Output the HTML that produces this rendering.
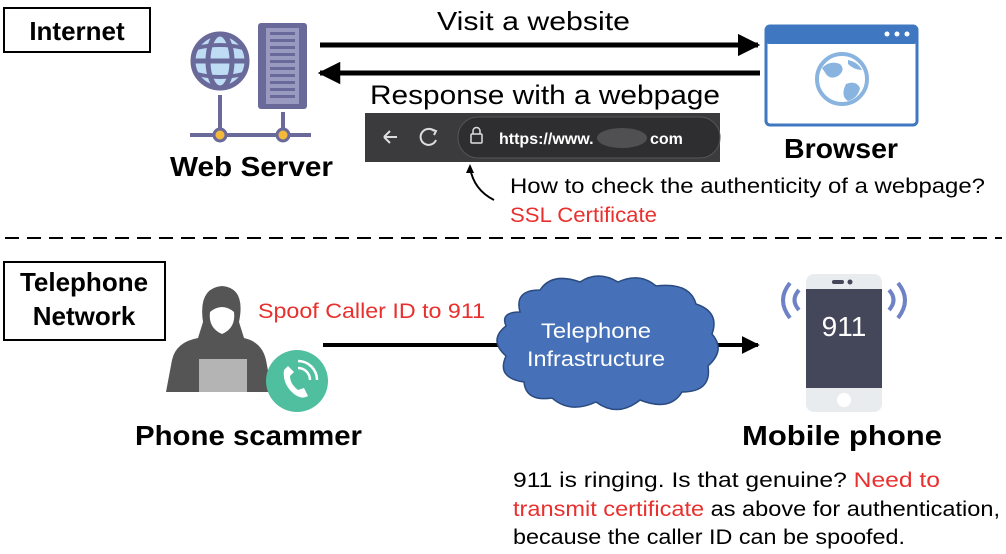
<!DOCTYPE html>
<html><head><meta charset="utf-8"><style>
html,body{margin:0;padding:0;background:#fff;}
svg{display:block;font-family:"Liberation Sans",sans-serif;}
</style></head><body>
<svg width="1006" height="554" viewBox="0 0 1006 554">
<defs>
<marker id="ah" viewBox="0 0 10 10" refX="9" refY="5" markerWidth="4.5" markerHeight="4.5" orient="auto"><path d="M0,0 L10,5 L0,10 z" fill="#000"/></marker>
</defs>
<rect x="4" y="8" width="146" height="44" fill="#fff" stroke="#000" stroke-width="2"/>
<text x="77" y="40" text-anchor="middle" font-size="26" font-weight="bold">Internet</text>
<circle cx="220" cy="61" r="27" fill="#bfdcf5" stroke="#6a6a9a" stroke-width="5"/>
<ellipse cx="220" cy="61" rx="12" ry="27" fill="none" stroke="#6a6a9a" stroke-width="5"/>
<line x1="193" y1="61" x2="247" y2="61" stroke="#6a6a9a" stroke-width="5"/>
<path d="M197,48 Q220,42 243,48 M197,74 Q220,80 243,74" fill="none" stroke="#6a6a9a" stroke-width="4"/>
<rect x="258" y="23" width="49" height="86" rx="3" fill="#6a6a9a"/>
<rect x="266" y="28" width="33" height="76" fill="#9a9ac0"/>
<g fill="#6a6a9a">
<rect x="270" y="32" width="25" height="3"/><rect x="270" y="39" width="25" height="3"/><rect x="270" y="46" width="25" height="3"/><rect x="270" y="53" width="25" height="3"/><rect x="270" y="60" width="25" height="3"/><rect x="270" y="67" width="25" height="3"/><rect x="270" y="74" width="25" height="3"/><rect x="270" y="81" width="25" height="3"/><rect x="270" y="88" width="25" height="3"/><rect x="270" y="95" width="25" height="3"/>
</g>
<g stroke="#6a6a9a" stroke-width="4">
<line x1="220" y1="95" x2="220" y2="135"/><line x1="283" y1="112" x2="283" y2="135"/>
<line x1="190" y1="135" x2="311" y2="135"/>
</g>
<circle cx="220" cy="135" r="6" fill="#f5b93a" stroke="#6a6a9a" stroke-width="3"/>
<circle cx="283" cy="135" r="6" fill="#f5b93a" stroke="#6a6a9a" stroke-width="3"/>
<text x="170" y="176" font-size="28" font-weight="bold" textLength="163" lengthAdjust="spacingAndGlyphs">Web Server</text>
<line x1="320" y1="45" x2="758" y2="45" stroke="#000" stroke-width="5" marker-end="url(#ah)"/>
<line x1="760" y1="73" x2="320" y2="73" stroke="#000" stroke-width="5" marker-end="url(#ah)"/>
<text x="437" y="30" font-size="26" textLength="193" lengthAdjust="spacingAndGlyphs">Visit a website</text>
<text x="370" y="104" font-size="27" textLength="350" lengthAdjust="spacingAndGlyphs">Response with a webpage</text>
<rect x="365" y="113" width="355" height="49" fill="#3b3b3d"/>
<rect x="458" y="117" width="262" height="41" rx="20" fill="#2e2e30" stroke="#555" stroke-width="1"/>
<path d="M384,137 H397 M384,137 l6,-6 M384,137 l6,6" stroke="#ddd" stroke-width="2" fill="none"/>
<path d="M434,131 A8,8 0 1 0 436,140" stroke="#ddd" stroke-width="2" fill="none"/>
<path d="M431,129 l5,2 l-2,4" stroke="#ddd" stroke-width="2" fill="none"/>
<rect x="471" y="134" width="11" height="9" rx="1" fill="none" stroke="#ddd" stroke-width="1.5"/>
<path d="M473,134 v-3 a3,3 0 0 1 7,0 v3" fill="none" stroke="#ddd" stroke-width="1.5"/>
<text x="499" y="144" font-size="16" fill="#fff" font-weight="bold">https://www.</text>
<ellipse cx="622" cy="138" rx="25" ry="10" fill="#505052"/>
<text x="650" y="144" font-size="16" fill="#fff" font-weight="bold">com</text>
<path d="M494,200 Q474,190 470,168" fill="none" stroke="#000" stroke-width="2"/>
<path d="M470,164 l-4,9 l8,0 z" fill="#000"/>
<text x="510" y="193" font-size="21" textLength="475" lengthAdjust="spacingAndGlyphs">How to check the authenticity of a webpage?</text>
<text x="510" y="222" font-size="21" fill="#e8302e" textLength="147" lengthAdjust="spacingAndGlyphs">SSL Certificate</text>
<rect x="766" y="26" width="151" height="99" rx="4" fill="#fff" stroke="#3f78c0" stroke-width="3"/>
<rect x="766" y="26" width="151" height="18" rx="3" fill="#3f78c0"/>
<circle cx="887" cy="34" r="2.5" fill="#fff"/><circle cx="897" cy="34" r="2.5" fill="#fff"/><circle cx="907" cy="34" r="2.5" fill="#fff"/>
<circle cx="842" cy="79" r="25" fill="#fff" stroke="#8ab4e0" stroke-width="4"/>
<path d="M822,68 Q830,60 840,64 Q846,70 838,76 Q830,80 826,74 z M846,84 Q856,80 860,88 Q858,98 848,101 Q840,96 846,84 z M848,60 Q858,62 862,70 Q854,70 848,64 z" fill="#8ab4e0"/>
<text x="784" y="158" font-size="28" font-weight="bold" textLength="114" lengthAdjust="spacingAndGlyphs">Browser</text>
<line x1="5" y1="238" x2="1002" y2="238" stroke="#000" stroke-width="2" stroke-dasharray="14,8"/>
<rect x="4" y="262" width="161" height="78" fill="#fff" stroke="#000" stroke-width="2"/>
<text x="84" y="291" text-anchor="middle" font-size="26" font-weight="bold">Telephone</text>
<text x="84" y="325" text-anchor="middle" font-size="26" font-weight="bold">Network</text>
<path d="M222,286 Q198,288 203,322 L198,338 Q176,342 172,360 L166,392 L272,392 L266,360 Q262,342 244,338 L239,322 Q246,288 222,286 z" fill="#555"/>
<path d="M210,312 Q222,302 234,312 Q236,328 222,334 Q208,328 210,312 z" fill="#fff"/>
<rect x="199" y="359" width="48" height="33" fill="#b4b4b4"/>
<circle cx="297" cy="381" r="31" fill="#4fbf9f"/>
<path d="M284,370 Q282,384 294,394 Q302,400 308,396 L304,388 L298,390 Q290,384 290,376 L294,372 L288,366 z" fill="#fff"/>
<path d="M298,368 A12,12 0 0 1 310,380 M298,361 A19,19 0 0 1 317,380" fill="none" stroke="#fff" stroke-width="2.5"/>
<text x="258" y="318" font-size="21" fill="#e8302e" textLength="227" lengthAdjust="spacingAndGlyphs">Spoof Caller ID to 911</text>
<text x="135" y="445" font-size="28" font-weight="bold" textLength="227" lengthAdjust="spacingAndGlyphs">Phone scammer</text>
<line x1="323" y1="345" x2="500" y2="345" stroke="#000" stroke-width="4"/>
<line x1="715" y1="345" x2="758" y2="345" stroke="#000" stroke-width="4" marker-end="url(#ah)"/>
<path d="M520,312 Q514,290 540,290 Q552,272 580,282 Q598,270 618,282 Q640,272 656,286 Q690,282 696,304 Q720,312 712,334 Q726,350 708,366 Q712,392 682,392 Q670,412 640,400 Q618,418 596,402 Q570,414 552,398 Q526,402 524,382 Q496,378 506,356 Q488,340 506,326 Q500,312 520,312 z" fill="#4671b8" stroke="#2a4a80" stroke-width="1.5"/>
<text x="541" y="338" font-size="21" fill="#fff" textLength="110" lengthAdjust="spacingAndGlyphs">Telephone</text>
<text x="527" y="366" font-size="21" fill="#fff" textLength="138" lengthAdjust="spacingAndGlyphs">Infrastructure</text>
<rect x="806" y="274" width="76" height="138" rx="8" fill="#e8ecef"/>
<rect x="806" y="289" width="76" height="99" fill="#44475a"/>
<rect x="832" y="280" width="12" height="4" rx="2" fill="#44475a"/><circle cx="850" cy="282" r="2.5" fill="#44475a"/>
<circle cx="844" cy="400" r="7" fill="#fff"/>
<text x="844" y="336" text-anchor="middle" font-size="28" fill="#fff">911</text>
<path d="M790,283 Q776,300 790,318 M799,290 Q790,300 799,310" fill="none" stroke="#6f82c6" stroke-width="4"/>
<path d="M898,283 Q912,300 898,318 M889,290 Q898,300 889,310" fill="none" stroke="#6f82c6" stroke-width="4"/>
<text x="742" y="445" font-size="28" font-weight="bold" textLength="200" lengthAdjust="spacingAndGlyphs">Mobile phone</text>
<text x="513" y="487" font-size="21" textLength="427" lengthAdjust="spacingAndGlyphs">911 is ringing. Is that genuine? <tspan fill="#e8302e">Need to</tspan></text>
<text x="513" y="516" font-size="21" textLength="487" lengthAdjust="spacingAndGlyphs"><tspan fill="#e8302e">transmit certificate</tspan> as above for authentication,</text>
<text x="513" y="544" font-size="21" textLength="392" lengthAdjust="spacingAndGlyphs">because the caller ID can be spoofed.</text>
</svg>
</body></html>
